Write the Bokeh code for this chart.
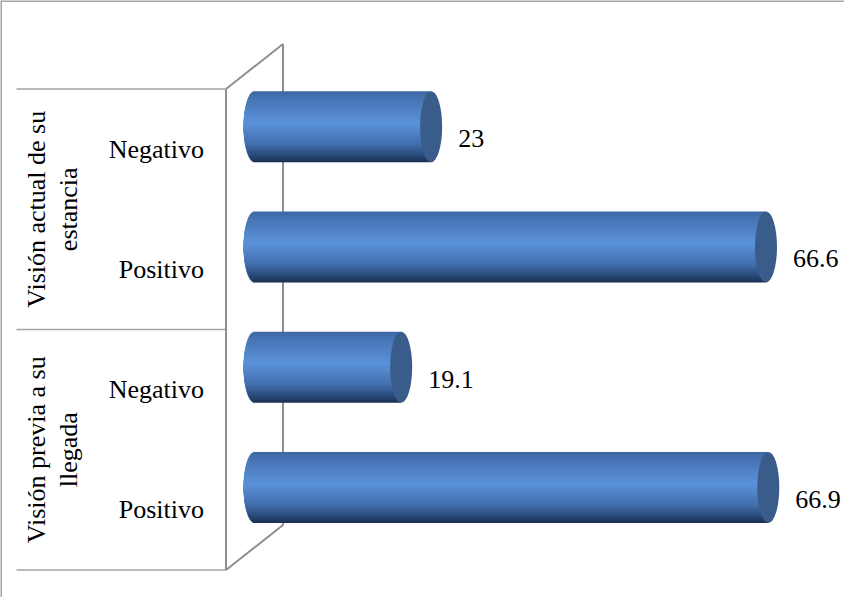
import numpy as np
from bokeh.plotting import figure
from bokeh.models import Range1d
from bokeh.embed import file_html
from bokeh.resources import INLINE
from bokeh.core.properties import value as pv

# ---------------- data ----------------
group_lines = [["Visión previa a su", "llegada"], ["Visión actual de su", "estancia"]]
categories = ["Positivo", "Negativo", "Positivo", "Negativo"]   # bottom -> top
values = [66.9, 19.1, 66.6, 23]
value_labels = ["66.9", "19.1", "66.6", "23"]

# ---------------- layout ----------------
W, H = 844, 597
PXU = 7.68            # px per value unit
ZERO_PX = 254         # canvas x of value 0 (mid depth)
SLOT = 120.25         # px per category slot
J0_PX = 509.4         # canvas y of category 0 (front plane)
x0 = -ZERO_PX / PXU
x1 = (W - ZERO_PX) / PXU
y_start = (J0_PX - H) / SLOT
y_end = J0_PX / SLOT

DX = 57 / PXU         # depth in value units
DY = 45 / SLOT        # depth in slot units
FRONT0 = -DX / 2
R = 35.5 / SLOT       # cylinder radius (slot units)
A = 11 / PXU          # cap half width (value units)
LEFT = (16 - ZERO_PX) / PXU

p = figure(width=W, height=H, x_range=Range1d(x0, x1), y_range=Range1d(y_start, y_end),
           output_backend="svg", toolbar_location=None, min_border=0,
           x_axis_type=None, y_axis_type=None, outline_line_color=None,
           background_fill_color="white", border_fill_color="white")
p.grid.visible = False

n = len(values)
jpos = list(range(n))

# chart border (left and top)
p.segment(x0=[x0, x0], y0=[y_start, y_end], x1=[x0, x1], y1=[y_end, y_end],
          line_color="#a6a6a6", line_width=3)

# category separators
bounds = [-0.5, 1.5, 3.5]
p.segment(x0=[LEFT] * 3, y0=bounds, x1=[FRONT0] * 3, y1=bounds,
          line_color="#a3a3a3", line_width=1.5)

# wall
top, bot = n - 0.5, -0.5
p.segment(x0=[FRONT0, FRONT0 + DX, FRONT0, FRONT0],
          y0=[bot, bot + DY, top, bot],
          x1=[FRONT0, FRONT0 + DX, FRONT0 + DX, FRONT0 + DX],
          y1=[top, top + DY, top + DY, bot + DY],
          line_color="#8e8e8e", line_width=2)

# cylinder bodies as gradient bands (painter's order: outside -> centre)
stops_t = [0.0, 0.12, 0.45, 0.75, 0.92, 1.0]
stops_c = [(62, 103, 163), (72, 118, 182), (92, 147, 219), (66, 110, 172), (40, 70, 115), (26, 46, 78)]

def grad(t):
    r = int(np.interp(t, stops_t, [c[0] for c in stops_c]))
    g = int(np.interp(t, stops_t, [c[1] for c in stops_c]))
    b = int(np.interp(t, stops_t, [c[2] for c in stops_c]))
    return "#%02x%02x%02x" % (r, g, b)

N = 36  # bands per half
L, Rr, T, B, C = [], [], [], [], []
for i, v in enumerate(values):
    yc = jpos[i] + DY / 2
    for k in range(N):
        f = k / N
        dy = R * (1 - f)
        t_up = 0.5 * f + 0.5 / (2 * N)
        lft = -A * np.sqrt(max(0.0, 1 - (1 - f - 0.5 / N) ** 2))
        L.append(lft); Rr.append(v); T.append(yc + dy); B.append(yc); C.append(grad(t_up))
        L.append(lft); Rr.append(v); T.append(yc); B.append(yc - dy); C.append(grad(1 - t_up))
p.quad(left=L, right=Rr, top=T, bottom=B, fill_color=C, line_color=None)

# end caps
p.ellipse(x=values, y=[j + DY / 2 for j in jpos], width=2 * A, height=2 * R,
          fill_color="#3a5c8b", line_color=None)

font = pv("Liberation Serif")

# value labels
p.text(x=values, y=[j + 0.087 for j in jpos], text=value_labels, x_offset=27,
       text_font=font, text_font_size="26px", text_align="left", text_baseline="middle",
       text_color="black")

# category labels
p.text(x=[FRONT0] * n, y=jpos, text=categories, x_offset=-22,
       text_font=font, text_font_size="26px", text_align="right", text_baseline="middle",
       text_color="black")

# group labels (rotated, two lines)
gy = [0.5, 2.5]
p.text(x=[x0, x0], y=gy, text=[g[0] for g in group_lines], x_offset=36, angle=np.pi / 2,
       text_font=font, text_font_size="26px", text_align="center", text_baseline="middle",
       text_color="black")
p.text(x=[x0, x0], y=gy, text=[g[1] for g in group_lines], x_offset=68, angle=np.pi / 2,
       text_font=font, text_font_size="26px", text_align="center", text_baseline="middle",
       text_color="black")

open("out.html", "w").write(file_html(p, INLINE))
